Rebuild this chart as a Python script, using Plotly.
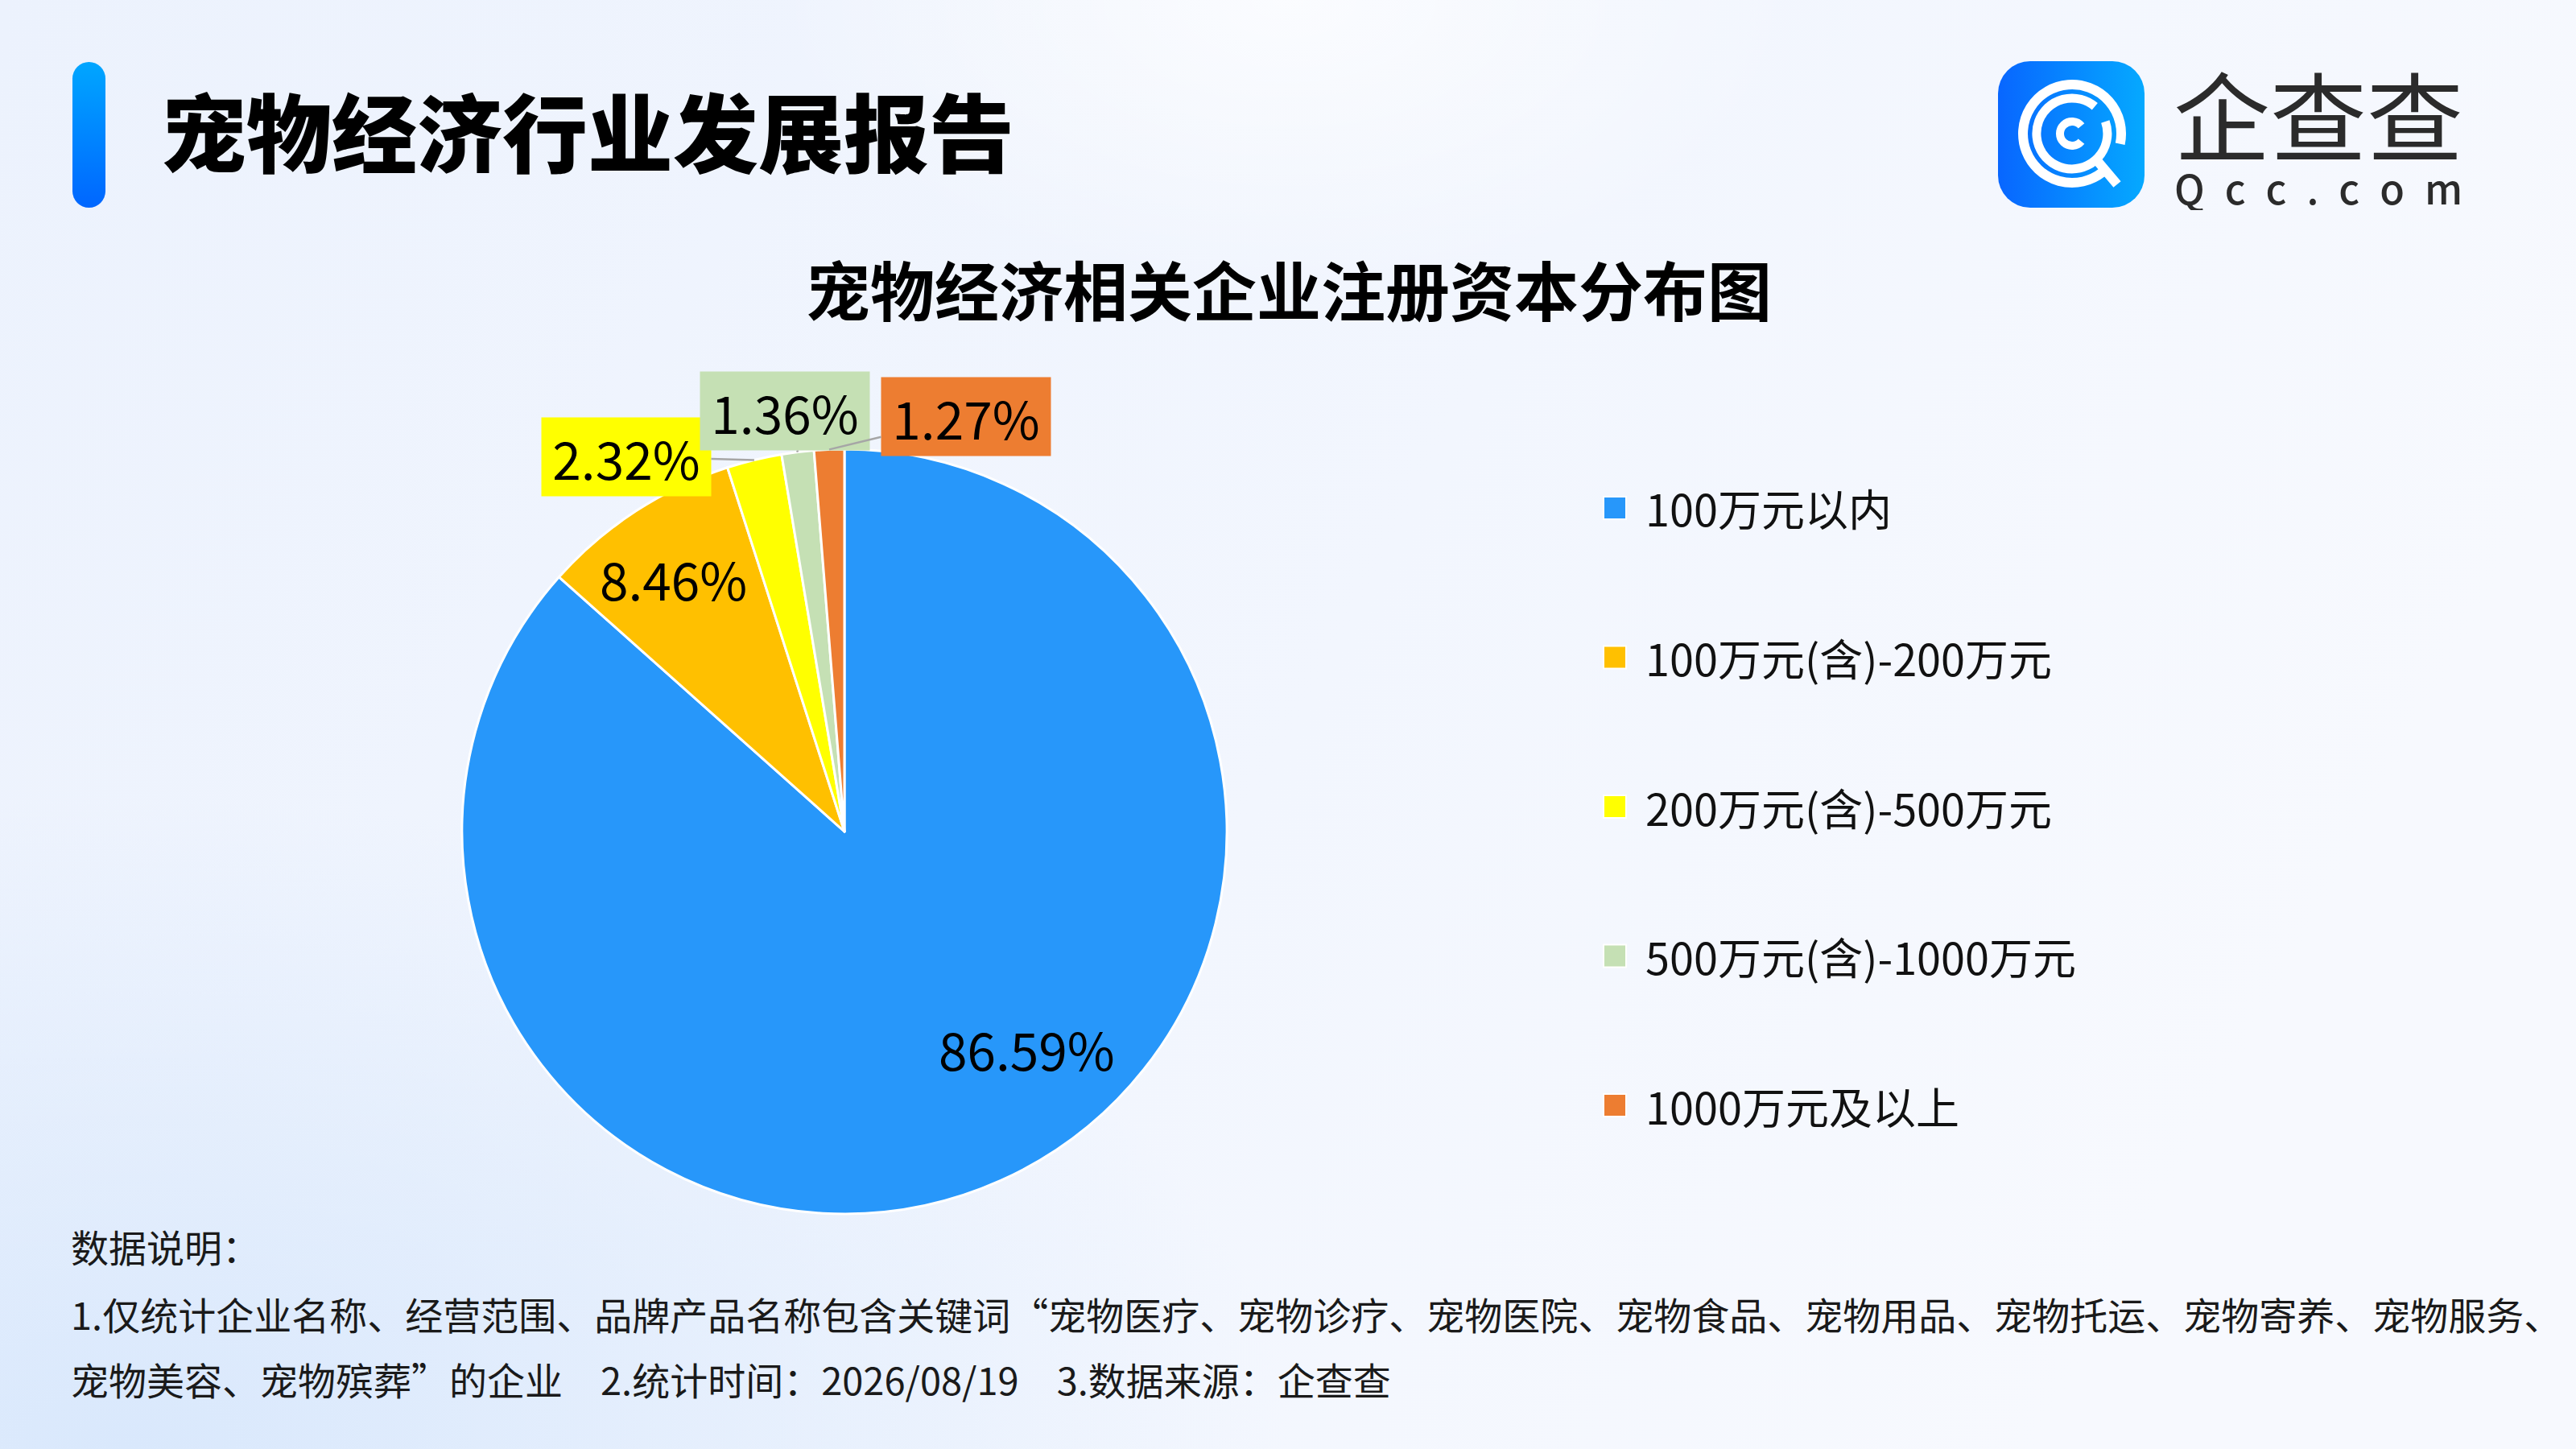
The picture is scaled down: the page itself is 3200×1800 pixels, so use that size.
import base64
import math
import plotly.graph_objects as go

W, H = 3200, 1800
FONT = "Noto Sans CJK SC"

# ---- data ----
categories = ["100万元以内", "100万元(含)-200万元", "200万元(含)-500万元",
              "500万元(含)-1000万元", "1000万元及以上"]
shares = [86.59, 8.46, 2.32, 1.36, 1.27]
colors = ["#2797FA", "#FFC000", "#FFFF00", "#C5E0B4", "#ED7D31"]

report_title = "宠物经济行业发展报告"
chart_title = "宠物经济相关企业注册资本分布图"
note_lines = [
    "数据说明：",
    "1.仅统计企业名称、经营范围、品牌产品名称包含关键词“宠物医疗、宠物诊疗、宠物医院、"
    "宠物食品、宠物用品、宠物托运、宠物寄养、宠物服务、",
    "宠物美容、宠物殡葬”的企业\u30002.统计时间：2026/08/19\u30003.数据来源：企查查",
]

# ---- geometry (pixels) ----
CX, CY, R = 1049, 1033, 475


def px(x, y):
    return x / W, 1 - y / H


def svg_uri(svg):
    return "data:image/svg+xml;base64," + base64.b64encode(svg.encode("utf-8")).decode()


def arc(cx, cy, r, a0, a1):
    x0, y0 = cx + r * math.cos(math.radians(a0)), cy + r * math.sin(math.radians(a0))
    x1, y1 = cx + r * math.cos(math.radians(a1)), cy + r * math.sin(math.radians(a1))
    large = 1 if (a1 - a0) % 360 > 180 else 0
    return f"M{x0:.1f} {y0:.1f} A{r} {r} 0 {large} 1 {x1:.1f} {y1:.1f}"


# background with soft gradients and the title bar
bg_svg = f"""<svg xmlns='http://www.w3.org/2000/svg' width='{W}' height='{H}'>
<defs>
<linearGradient id='base' x1='0' y1='0' x2='1' y2='0.3'>
<stop offset='0' stop-color='#ECF2FD'/><stop offset='0.6' stop-color='#F2F6FE'/><stop offset='1' stop-color='#F7F9FE'/>
</linearGradient>
<radialGradient id='bl' cx='0.05' cy='1' r='0.45'>
<stop offset='0' stop-color='#D9E8FC'/><stop offset='1' stop-color='#D9E8FC' stop-opacity='0'/>
</radialGradient>
<radialGradient id='tc' cx='0.5' cy='0' r='0.2'>
<stop offset='0' stop-color='#FFFFFF' stop-opacity='0.7'/><stop offset='1' stop-color='#FFFFFF' stop-opacity='0'/>
</radialGradient>
<linearGradient id='bar' x1='0' y1='0' x2='0' y2='1'>
<stop offset='0' stop-color='#00A6FF'/><stop offset='1' stop-color='#0066FF'/>
</linearGradient>
</defs>
<rect width='{W}' height='{H}' fill='url(#base)'/>
<rect width='{W}' height='{H}' fill='url(#bl)'/>
<rect width='{W}' height='{H}' fill='url(#tc)'/>
<rect x='90' y='77' width='41' height='181' rx='20.5' fill='url(#bar)'/>
</svg>"""

# logo icon
lc = (92, 90)
logo_svg = f"""<svg xmlns='http://www.w3.org/2000/svg' width='182' height='182'>
<defs><linearGradient id='lg' x1='0' y1='0' x2='1' y2='0'>
<stop offset='0' stop-color='#0866FF'/><stop offset='1' stop-color='#05A9FF'/>
</linearGradient></defs>
<rect width='182' height='182' rx='40' fill='url(#lg)'/>
<g fill='none' stroke='white'>
<path d='{arc(*lc, 61, 52, 372)}' stroke-width='12'/>
<path d='{arc(*lc, 44, -20, 310)}' stroke-width='11'/>
<path d='{arc(*lc, 15, 40, 320)}' stroke-width='10'/>
<path d='M121 121 L148 153' stroke-width='12'/>
</g></svg>"""

fig = go.Figure()

x0, y1 = px(CX - R, CY - R)
x1, y0 = px(CX + R, CY + R)
fig.add_trace(go.Pie(
    labels=categories,
    values=shares,
    marker=dict(colors=colors, line=dict(color="white", width=3)),
    sort=False,
    direction="clockwise",
    rotation=0,
    textinfo="none",
    hoverinfo="label+percent",
    showlegend=False,
    domain=dict(x=[x0, x1], y=[y0, y1]),
))

annotations = []

# slice labels: angle taken from the data
label_style = [
    dict(mode="in", r=0.74, dtheta=-16),
    dict(mode="in", r=0.80, dtheta=-1),
    dict(mode="out", ax=-159, ay=-4),
    dict(mode="out", ax=-16, ay=-51),
    dict(mode="out", ax=170, ay=-41),
]
cum = 0.0
total = sum(shares)
for val, col, st in zip(shares, colors, label_style):
    mid = (cum + val / 2) / total * 360
    cum += val
    text = f"{val:.2f}%"
    if st["mode"] == "in":
        a = math.radians(mid + st["dtheta"])
        lx = CX + st["r"] * R * math.sin(a)
        ly = CY - st["r"] * R * math.cos(a)
        ax_, ay_ = px(lx, ly)
        annotations.append(dict(
            x=ax_, y=ay_, xref="paper", yref="paper", text=text, showarrow=False,
            xanchor="center", yanchor="middle",
            font=dict(family=FONT, size=64, color="#000000"),
        ))
    else:
        a = math.radians(mid)
        lx = CX + R * math.sin(a)
        ly = CY - R * math.cos(a)
        ax_, ay_ = px(lx, ly)
        annotations.append(dict(
            x=ax_, y=ay_, xref="paper", yref="paper", text=text,
            showarrow=True, arrowhead=0, arrowwidth=2.5, arrowcolor="#A6A6A6",
            ax=st["ax"], ay=st["ay"], standoff=0,
            bgcolor=col, borderpad=5, width=200, height=87,
            font=dict(family=FONT, size=64, color="#000000"),
        ))

# custom legend
LEG_X, LEG_Y0, LEG_STEP, SQ = 1992, 631, 185.5, 28
shapes = []
for i, (cat, col) in enumerate(zip(categories, colors)):
    yc = LEG_Y0 + i * LEG_STEP
    sx0, sy1 = px(LEG_X, yc - SQ / 2)
    sx1, sy0 = px(LEG_X + SQ, yc + SQ / 2)
    shapes.append(dict(type="rect", xref="paper", yref="paper",
                       x0=sx0, x1=sx1, y0=sy0, y1=sy1,
                       fillcolor=col, line=dict(color="white", width=2)))
    tx, ty = px(LEG_X + 50, yc)
    annotations.append(dict(
        x=tx, y=ty, xref="paper", yref="paper", text=cat, showarrow=False,
        xanchor="left", yanchor="middle",
        font=dict(family=FONT, size=54, color="#111111"),
    ))

# titles
tx, ty = px(198, 160)
annotations.append(dict(
    x=tx, y=ty, xref="paper", yref="paper", text=report_title, showarrow=False,
    xanchor="left", yanchor="middle",
    font=dict(family=FONT, size=106, color="#000000", weight=900),
))
tx, ty = px(1601, 357)
annotations.append(dict(
    x=tx, y=ty, xref="paper", yref="paper", text=chart_title, showarrow=False,
    xanchor="center", yanchor="middle",
    font=dict(family=FONT, size=80, color="#000000", weight=700),
))

# logo text
tx, ty = px(2880, 140)
annotations.append(dict(
    x=tx, y=ty, xref="paper", yref="paper", text="企查查", showarrow=False,
    xanchor="center", yanchor="middle", height=122,
    font=dict(family=FONT, size=120, color="#2B2B2B", weight=400),
))
tx, ty = px(2880, 232)
annotations.append(dict(
    x=tx, y=ty, xref="paper", yref="paper", text="Q\u2002c\u2002c\u2002.\u2002c\u2002o\u2002m",
    showarrow=False, xanchor="center", yanchor="middle", height=58,
    font=dict(family=FONT, size=50, color="#2B2B2B", weight=500),
))

# notes at the bottom
for yy, line in zip([1547, 1631, 1712], note_lines):
    tx, ty = px(86, yy)
    annotations.append(dict(
        x=tx, y=ty, xref="paper", yref="paper", text=line, showarrow=False,
        xanchor="left", yanchor="middle",
        font=dict(family=FONT, size=47, color="#1A1A1A"),
    ))

lx0, ly0 = px(2482, 76)
images = [
    dict(source=svg_uri(bg_svg), xref="paper", yref="paper", x=0, y=1,
         sizex=1, sizey=1, xanchor="left", yanchor="top", sizing="stretch", layer="below"),
    dict(source=svg_uri(logo_svg), xref="paper", yref="paper", x=lx0, y=ly0,
         sizex=182 / W, sizey=182 / H, xanchor="left", yanchor="top", sizing="stretch",
         layer="above"),
]

fig.update_layout(
    width=W, height=H,
    margin=dict(l=0, r=0, t=0, b=0),
    paper_bgcolor="#EFF4FD",
    plot_bgcolor="rgba(0,0,0,0)",
    annotations=annotations,
    shapes=shapes,
    images=images,
    font=dict(family=FONT),
)

fig.write_html(
    "out.html",
    config={"displayModeBar": False},
    post_script="document.body.style.margin='0';document.body.style.overflow='hidden';",
)
